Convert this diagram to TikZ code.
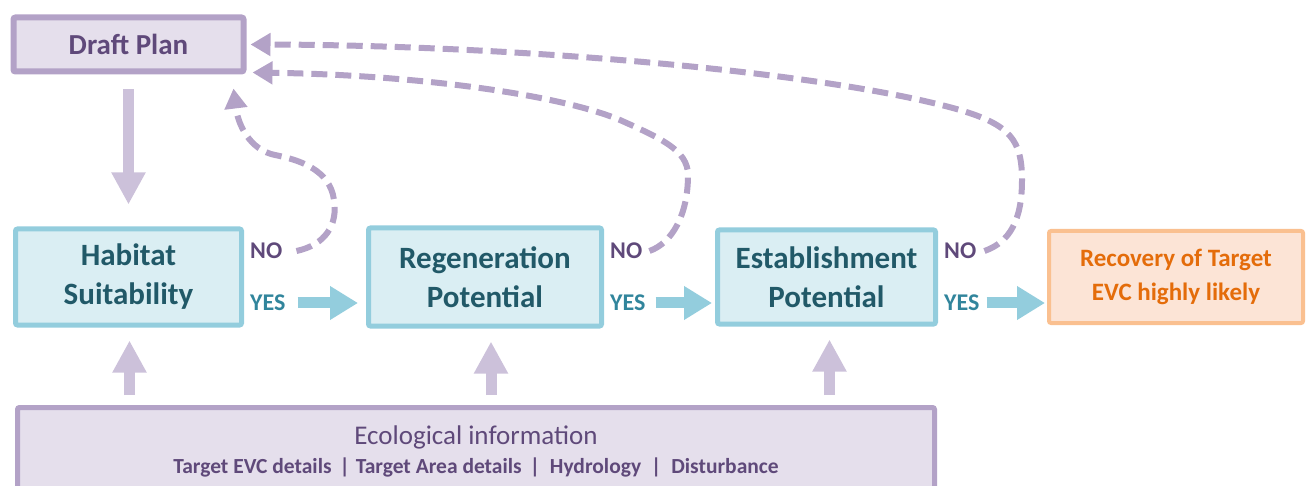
\documentclass[tikz,border=0pt]{standalone}
\usepackage{fontspec}
\setmainfont{Carlito}
\usetikzlibrary{arrows.meta, positioning, calc}

\definecolor{planfill}{HTML}{E5DFEC}
\definecolor{planline}{HTML}{B3A2C7}
\definecolor{plantext}{HTML}{5F497A}
\definecolor{feedarrow}{HTML}{CCC1DA}
\definecolor{stepfill}{HTML}{DAEEF3}
\definecolor{stepline}{HTML}{93CDDD}
\definecolor{steptext}{HTML}{215968}
\definecolor{yestext}{HTML}{31859C}
\definecolor{goalfill}{HTML}{FCE4D6}
\definecolor{goalline}{HTML}{FAC090}
\definecolor{goaltext}{HTML}{E46C0A}

\begin{document}
\begin{tikzpicture}[x=1pt, y=-1pt,
    planbox/.style={draw=planline, fill=planfill, line width=6pt, rounded corners=2pt, text=plantext, font=\fontsize{29}{34}\selectfont\bfseries},
    infobox/.style={draw=planline, fill=planfill, line width=5pt, rounded corners=2pt, text=plantext, align=center, font=\fontsize{21.5}{29}\selectfont},
    stepbox/.style={draw=stepline, fill=stepfill, line width=5pt, rounded corners=2pt, text=steptext, align=center, font=\fontsize{31}{39}\selectfont\bfseries},
    goalbox/.style={draw=goalline, fill=goalfill, line width=4pt, rounded corners=2pt, text=goaltext, align=center, font=\fontsize{25}{34}\selectfont\bfseries},
    nolabel/.style={text=plantext, inner sep=2pt, anchor=west, font=\fontsize{24}{30}\selectfont\bfseries},
    yeslabel/.style={text=yestext, inner sep=2pt, anchor=west, font=\fontsize{24}{30}\selectfont\bfseries},
    fatarrow/.style={draw=feedarrow, line width=11pt, -{Triangle[width=32pt,length=32pt]}},
    yesarrow/.style={draw=stepline, line width=11pt, -{Triangle[width=32pt,length=28pt]}},
    nopath/.style={draw=planline, line width=6pt, dash pattern=on 16pt off 8pt, -{Triangle[width=22pt,length=20pt]}}
]
    \useasboundingbox (0,0) rectangle (1309,486);
    \clip (0,0) rectangle (1309,486);

    % Steps
    \node[stepbox, minimum width=226pt, minimum height=96pt] (Habitat) at (128.5,277) {Habitat\\Suitability};
    \node[stepbox, minimum width=233pt, minimum height=98pt, right=122pt of Habitat] (Regen) {Regeneration\\Potential};
    \node[stepbox, minimum width=218pt, minimum height=94pt, right=111pt of Regen] (Establish) {Establishment\\Potential};
    \node[goalbox, minimum width=254pt, minimum height=92pt, right=109pt of Establish] (Recovery) {Recovery of Target\\EVC highly likely};
    \node[planbox, minimum width=230pt, minimum height=54pt, above=152pt of Habitat] (Draft) {Draft Plan};
    \node[infobox, minimum width=917pt, minimum height=87pt] (Eco) at (476,451)
        {{\fontsize{27}{29}\selectfont Ecological information}\\
         \textbf{Target EVC details\hspace{8pt}|\hspace{6pt}Target Area details\hspace{8pt}|\hspace{10pt}Hydrology\hspace{10pt}|\hspace{10pt}Disturbance}};

    % Labels
    \node[nolabel] (noHab) at ([xshift=4pt,yshift=26pt]Habitat.east) {NO};
    \node[yeslabel] (yesHab) at ([xshift=4pt,yshift=-26pt]Habitat.east) {YES};
    \node[nolabel] (noReg) at ([xshift=4pt,yshift=26pt]Regen.east) {NO};
    \node[yeslabel] (yesReg) at ([xshift=4pt,yshift=-26pt]Regen.east) {YES};
    \node[nolabel] (noEst) at ([xshift=4pt,yshift=26pt]Establish.east) {NO};
    \node[yeslabel] (yesEst) at ([xshift=4pt,yshift=-26pt]Establish.east) {YES};

    % Inputs
    \draw[fatarrow, shorten <=15pt, shorten >=22pt] (Draft) -- (Habitat);
    \draw[fatarrow, shorten <=10pt, shorten >=13pt] ([xshift=1pt]Habitat.south |- Eco.north) -- ([xshift=1pt]Habitat.south);
    \draw[fatarrow, shorten <=10pt, shorten >=13pt] ([xshift=6pt]Regen.south |- Eco.north) -- ([xshift=6pt]Regen.south);
    \draw[fatarrow, shorten <=10pt, shorten >=13pt] ([xshift=3pt]Establish.south |- Eco.north) -- ([xshift=3pt]Establish.south);

    % YES
    \draw[yesarrow, shorten <=10pt, shorten >=8pt] (yesHab.east) -- (yesHab.east -| Regen.west);
    \draw[yesarrow, shorten <=8pt, shorten >=3pt] (yesReg.east) -- (yesReg.east -| Establish.west);
    \draw[yesarrow, shorten <=5pt, shorten >=2pt] (yesEst.east) -- (yesEst.east -| Recovery.west);

    % NO
    \draw[nopath] ([xshift=12pt]noHab.east) .. controls (325,245) and (338,225) .. (334,200)
        .. controls (330,170) and (300,160) .. (275,155)
        .. controls (250,150) and (238,125) .. ([xshift=-13pt,yshift=-14pt]Draft.south east);
    \draw[nopath] ([xshift=5pt]noReg.east) .. controls (672,243) and (688,215) .. (688,175)
        .. controls (688,150) and (660,138) .. (620,120)
        .. controls (560,95) and (420,75) .. ([xshift=6pt,yshift=2pt]Draft.south east);
    \draw[nopath] ([xshift=6pt]noEst.east) .. controls (1010,242) and (1022,220) .. (1022,180)
        .. controls (1022,140) and (1010,125) .. (960,110)
        .. controls (820,70) and (500,45) .. ([xshift=4pt]Draft.east);
\end{tikzpicture}
\end{document}
